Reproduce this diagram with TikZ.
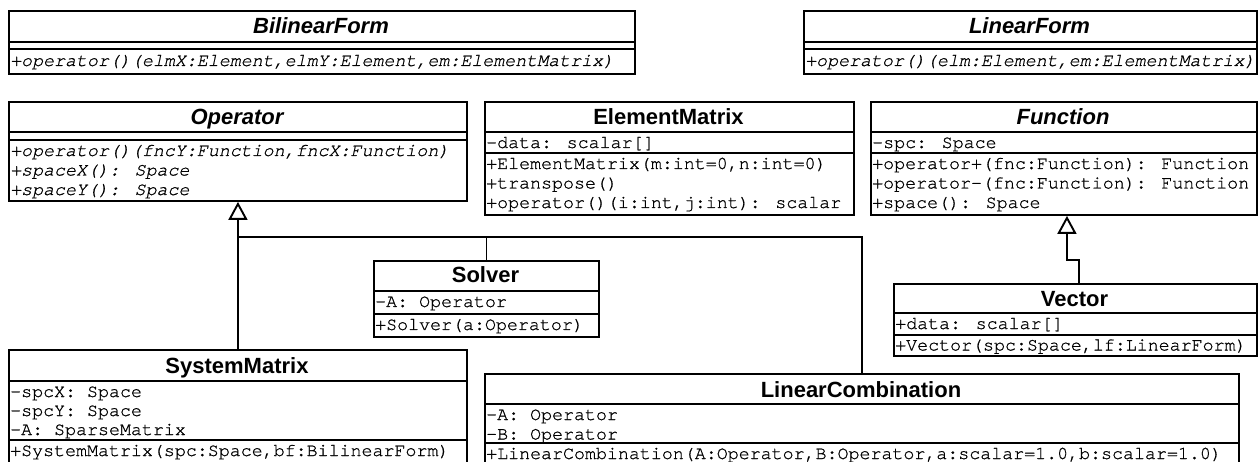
\documentclass[tikz,border=0pt]{standalone}
\usepackage{fontspec}
\setmainfont{Liberation Sans}
\newfontfamily\umlmono[FakeBold=0.8]{TeX Gyre Cursor}
\usetikzlibrary{arrows.meta,calc}
\tikzset{
  classbox/.style={draw, line width=1.9pt, rectangle, inner sep=0pt, anchor=north west},
  ctitle/.style={anchor=base, inner sep=0pt, font=\fontsize{22}{24}\selectfont\bfseries},
  atitle/.style={anchor=base, inner sep=0pt, font=\fontsize{22}{24}\selectfont\bfseries\itshape},
  member/.style={anchor=base west, inner sep=0pt, font=\umlmono\fontsize{18.3}{20}\selectfont},
  amember/.style={anchor=base west, inner sep=0pt, font=\umlmono\fontsize{18.3}{20}\selectfont\itshape},
  sepline/.style={line width=1.9pt},
  conn/.style={line width=1.9pt},
  inherit/.style={line width=1.9pt, -{Triangle[open, length=18pt, width=19pt, line width=1.9pt]}},
}
\newcommand\umlbox[5]{\node[classbox, minimum width={#4-#2}, minimum height={#5-#3}] (#1) at (#2,#3) {};}
\newcommand\csep[2]{\draw[sepline] (#1.west |- 0,#2) -- (#1.east |- 0,#2);}
\begin{document}
\begin{tikzpicture}[x=1pt,y=-1pt]
\useasboundingbox (0,0) rectangle (1258,462);
\clip (0,0) rectangle (1258,462);

% BilinearForm
\umlbox{bf}{8}{10}{634}{73}
\csep{bf}{42}\csep{bf}{49}
\node[atitle] (bf-t) at (321,34) {BilinearForm};
\node[amember] (bf-o1) at (10,66) {+operator()(elmX:Element,elmY:Element,em:ElementMatrix)};

% LinearForm
\umlbox{lf}{803}{10}{1256}{73}
\csep{lf}{42}\csep{lf}{49}
\node[atitle] (lf-t) at (1029.5,34) {LinearForm};
\node[amember] (lf-o1) at (805,66) {+operator()(elm:Element,em:ElementMatrix)};

% Operator
\umlbox{op}{8}{101}{466}{200}
\csep{op}{132}\csep{op}{140}
\node[atitle] (op-t) at (237,125) {Operator};
\node[amember] (op-o1) at (10,156) {+operator()(fncY:Function,fncX:Function)};
\node[amember] (op-o2) at (10,175.5) {+spaceX(): Space};
\node[amember] (op-o3) at (10,195) {+spaceY(): Space};

% ElementMatrix
\umlbox{em}{484}{101}{853}{214}
\csep{em}{132}\csep{em}{153}
\node[ctitle] (em-t) at (668.5,125) {ElementMatrix};
\node[member] (em-a1) at (486,148) {-data: scalar[]};
\node[member] (em-o1) at (486,169) {+ElementMatrix(m:int=0,n:int=0)};
\node[member] (em-o2) at (486,188.5) {+transpose()};
\node[member] (em-o3) at (486,208) {+operator()(i:int,j:int): scalar};

% Function
\umlbox{fn}{870}{101}{1256}{214}
\csep{fn}{132}\csep{fn}{153}
\node[atitle] (fn-t) at (1063,125) {Function};
\node[member] (fn-a1) at (872,148) {-spc: Space};
\node[member] (fn-o1) at (872,169) {+operator+(fnc:Function): Function};
\node[member] (fn-o2) at (872,188.5) {+operator-(fnc:Function): Function};
\node[member] (fn-o3) at (872,208) {+space(): Space};

% Solver
\umlbox{sv}{373}{260}{598}{336}
\csep{sv}{291}\csep{sv}{314}
\node[ctitle] (sv-t) at (485.5,283) {Solver};
\node[member] (sv-a1) at (375,307) {-A: Operator};
\node[member] (sv-o1) at (375,330) {+Solver(a:Operator)};

% Vector
\umlbox{vc}{893}{283}{1256}{355}
\csep{vc}{313}\csep{vc}{335}
\node[ctitle] (vc-t) at (1074.5,306) {Vector};
\node[member] (vc-a1) at (895,329) {+data: scalar[]};
\node[member] (vc-o1) at (895,350.5) {+Vector(spc:Space,lf:LinearForm)};

% SystemMatrix
\umlbox{sm}{8}{349}{466}{480}
\csep{sm}{381}\csep{sm}{440}
\node[ctitle] (sm-t) at (237,373) {SystemMatrix};
\node[member] (sm-a1) at (10,397) {-spcX: Space};
\node[member] (sm-a2) at (10,416) {-spcY: Space};
\node[member] (sm-a3) at (10,435) {-A: SparseMatrix};
\node[member] (sm-o1) at (10,456) {+SystemMatrix(spc:Space,bf:BilinearForm)};

% LinearCombination
\umlbox{lc}{484}{373}{1238}{480}
\csep{lc}{404}\csep{lc}{443}
\node[ctitle] (lc-t) at (861,397) {LinearCombination};
\node[member] (lc-a1) at (486,420) {-A: Operator};
\node[member] (lc-a2) at (486,439.5) {-B: Operator};
\node[member] (lc-o1) at (486,459) {+LinearCombination(A:Operator,B:Operator,a:scalar=1.0,b:scalar=1.0)};

% connectors
\coordinate (j1) at (237,237);
\draw[inherit] (sm.north) -- (op.south);
\draw[conn] (j1) -| (lc.north);
\draw[conn] (sv.north |- j1) -- (sv.north);
\coordinate (vt) at ($(vc.north)+(3.5,0)$);
\coordinate (ft) at ($(fn.south)+(3,0)$);
\draw[inherit] (vt) -- ++(0,-23) -| (ft);
\end{tikzpicture}
\end{document}
